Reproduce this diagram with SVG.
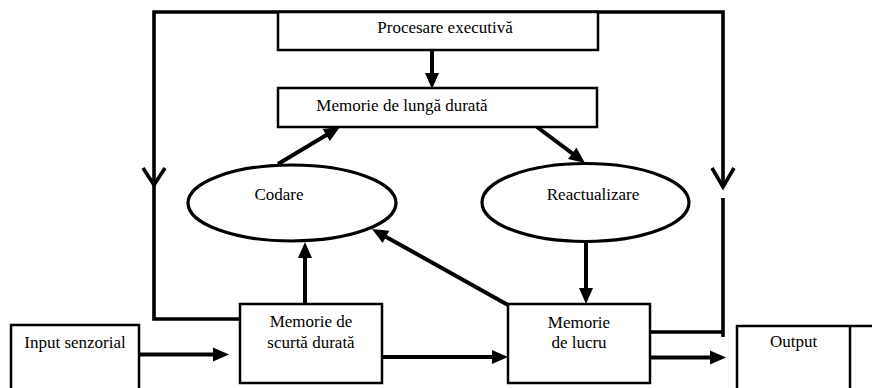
<svg xmlns="http://www.w3.org/2000/svg" width="872" height="388" viewBox="0 0 872 388">
<style>
.box{fill:#fff;stroke:#000;stroke-width:2.5}
.ell{fill:#fff;stroke:#000;stroke-width:3.2}
.loop{fill:none;stroke:#000;stroke-width:3.6;stroke-linejoin:miter}
.arr{fill:none;stroke:#000;stroke-width:4;marker-end:url(#ah)}
.t{font-family:'Liberation Serif','Times New Roman',serif;font-size:17px;fill:#000;text-anchor:middle}
</style>
<defs>
<marker id="ah" markerUnits="userSpaceOnUse" markerWidth="16" markerHeight="14" refX="8" refY="7" orient="auto" overflow="visible">
<path d="M0,0 L16,7 L0,14 z" fill="#000"/>
</marker>
</defs>
<g id="connectors">
<polyline class="loop" points="240,319 154,319 154,12 723,12 723,187"/>
<polyline class="loop" points="143,168 154,185 165,168"/>
<polyline class="loop" points="712,168 723,187 734,168"/>
<line class="loop" x1="723" y1="198" x2="723" y2="337"/>
<line class="loop" x1="650" y1="332" x2="724" y2="332"/>
<line class="arr" x1="432" y1="50" x2="432" y2="81"/>
<line class="arr" x1="278" y1="164" x2="333.1" y2="131"/>
<line class="arr" x1="537" y1="127" x2="578.6" y2="158.2"/>
<line class="arr" x1="305" y1="304" x2="305" y2="250"/>
<line class="arr" x1="508" y1="305" x2="379" y2="232.9"/>
<line class="arr" x1="586" y1="242" x2="586" y2="296"/>
<line class="arr" x1="139" y1="354.5" x2="221" y2="354.5"/>
<line class="arr" x1="382" y1="357" x2="500" y2="357"/>
<line class="arr" x1="650" y1="357.5" x2="718" y2="357.5"/>
</g>
<g id="procesare">
<rect class="box" x="278" y="12" width="320" height="38"/>
<text class="t" x="445" y="33">Procesare executivă</text>
</g>
<g id="lunga">
<rect class="box" x="278" y="88" width="319" height="39"/>
<text class="t" x="402" y="111">Memorie de lungă durată</text>
</g>
<g id="codare">
<ellipse class="ell" cx="292" cy="203" rx="104" ry="38"/>
<text class="t" x="279" y="200">Codare</text>
</g>
<g id="reactualizare">
<ellipse class="ell" cx="585.5" cy="202.5" rx="103.5" ry="39"/>
<text class="t" x="593" y="200">Reactualizare</text>
</g>
<g id="input">
<rect class="box" x="11" y="325" width="128" height="75"/>
<text class="t" x="75" y="348">Input senzorial</text>
</g>
<g id="scurta">
<rect class="box" x="240" y="304" width="142" height="79"/>
<text class="t" x="311" y="327">Memorie de</text>
<text class="t" x="311" y="348">scurtă durată</text>
</g>
<g id="lucru">
<rect class="box" x="508" y="304" width="142" height="79"/>
<text class="t" x="579" y="328">Memorie</text>
<text class="t" x="579" y="348">de lucru</text>
</g>
<g id="output">
<rect class="box" x="737" y="326" width="145" height="75"/>
<line x1="850" y1="326" x2="850" y2="400" stroke="#000" stroke-width="2.5"/>
<text class="t" x="793.5" y="347">Output</text>
</g>
</svg>
